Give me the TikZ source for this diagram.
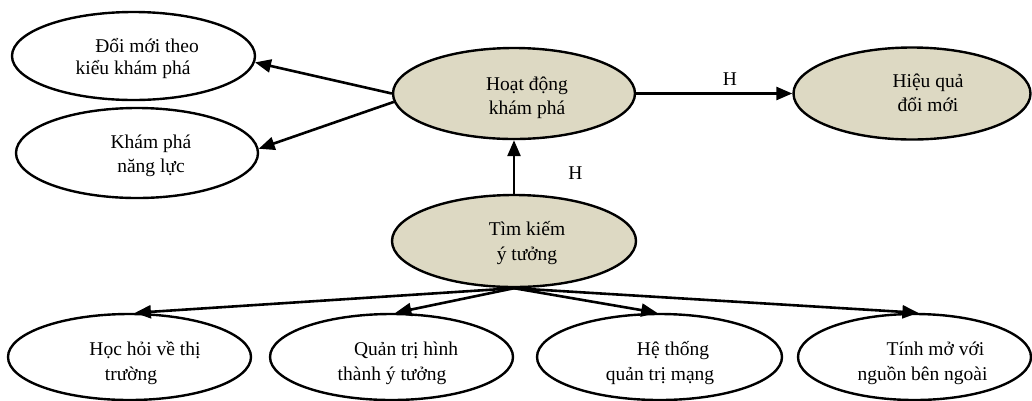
\documentclass[tikz,border=0pt]{standalone}
\usepackage{fontspec}
\setmainfont{Liberation Serif}
\usetikzlibrary{shapes.geometric,arrows.meta}
\definecolor{corefill}{RGB}{221,217,195}
\begin{document}
\begin{tikzpicture}[x=1pt,y=-1pt,
  oval/.style={ellipse, draw, line width=2.4pt, inner sep=0pt},
  core/.style={oval, fill=corefill},
  txt/.style={anchor=base, inner sep=0pt, font=\fontsize{19.5}{23}\selectfont},
  arr/.style={line width=2.6pt, -{Triangle[length=16pt,width=13pt]}},
]
\useasboundingbox (0,0) rectangle (1032,400);

% ---- ellipses ----
\node[oval, minimum width=243, minimum height=88] (doimoi)   at (133.5,56)  {};
\node[oval, minimum width=242, minimum height=90] (nangluc)  at (137,153)   {};
\node[core, minimum width=242, minimum height=91] (hoatdong) at (514,93.5)  {};
\node[core, minimum width=237, minimum height=92] (hieuqua)  at (912,93.5)  {};
\node[core, minimum width=244, minimum height=92] (timkiem)  at (514,241)   {};
\node[oval, minimum width=243, minimum height=86] (hochoi)   at (129.5,357) {};
\node[oval, minimum width=243, minimum height=86] (quantri)  at (391.5,357) {};
\node[oval, minimum width=245, minimum height=86] (hethong)  at (659.5,357) {};
\node[oval, minimum width=233, minimum height=86] (tinhmo)   at (914.5,357) {};

% ---- texts ----
\node[txt] (doimoi-a)   at (147,52)    {Đổi mới theo};
\node[txt] (doimoi-b)   at (133,74)    {kiểu khám phá};
\node[txt] (nangluc-a)  at (151,148)   {Khám phá};
\node[txt] (nangluc-b)  at (151,172)   {năng lực};
\node[txt] (hoatdong-a) at (527,90)    {Hoạt động};
\node[txt] (hoatdong-b) at (527,114)   {khám phá};
\node[txt] (hieuqua-a)  at (928,87)    {Hiệu quả};
\node[txt] (hieuqua-b)  at (928,111)   {đổi mới};
\node[txt] (timkiem-a)  at (527,235)   {Tìm kiếm};
\node[txt] (timkiem-b)  at (527,260)   {ý tưởng};
\node[txt] (hochoi-a)   at (145,355)   {Học hỏi về thị};
\node[txt] (hochoi-b)   at (131,380)   {trường};
\node[txt] (quantri-a)  at (406,355)   {Quản trị hình};
\node[txt] (quantri-b)  at (392,380)   {thành ý tưởng};
\node[txt] (hethong-a)  at (673,355)   {Hệ thống};
\node[txt] (hethong-b)  at (660,380)   {quản trị mạng};
\node[txt] (tinhmo-a)   at (935.5,355) {Tính mở với};
\node[txt] (tinhmo-b)   at (922.5,380) {nguồn bên ngoài};

% ---- edge labels ----
\node[txt] (h-right) at (730,85)  {H};
\node[txt] (h-up)    at (575.5,179) {H};

% ---- connectors ----
\draw[arr] (hoatdong.west) -- (doimoi.-3);
\draw[arr] (hoatdong.184)  -- (nangluc.2);
\draw[arr] (hoatdong.east) -- (hieuqua.west);
\draw[arr] (timkiem.north) -- (hoatdong.south);
\draw[arr] (timkiem.south) -- (hochoi.83);
\draw[arr] (timkiem.south) -- (quantri.85);
\draw[arr] (timkiem.south) -- (hethong.93);
\draw[arr] (timkiem.south) -- (tinhmo.85);
\end{tikzpicture}
\end{document}
